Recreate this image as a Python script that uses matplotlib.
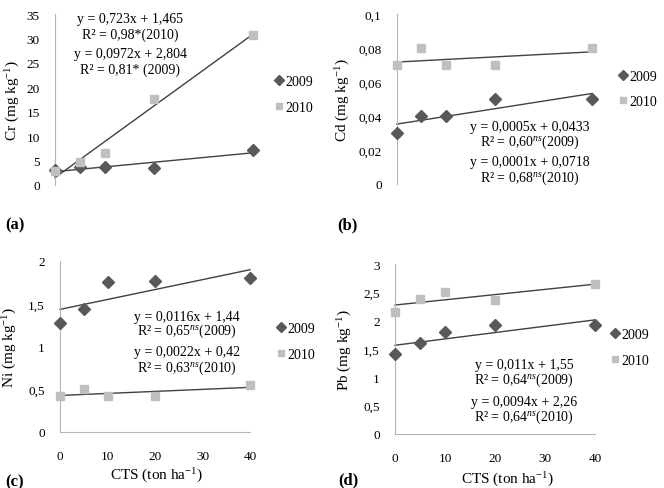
import numpy as np
import matplotlib
matplotlib.use("Agg")
import matplotlib.pyplot as plt
from matplotlib.lines import Line2D

plt.rcParams['font.family'] = ['Liberation Serif', 'DejaVu Serif']
plt.rcParams['mathtext.fontset'] = 'custom'
plt.rcParams['mathtext.rm'] = 'Liberation Serif'
plt.rcParams['mathtext.it'] = 'Liberation Serif:italic'

cts = [0, 5, 10, 20, 40]

cr_2009 = [3.1, 3.6, 3.6, 3.4, 7.2]
cr_2010 = [2.9, 4.8, 6.5, 17.6, 30.8]
cd_2009 = [0.03, 0.04, 0.04, 0.05, 0.05]
cd_2010 = [0.07, 0.08, 0.07, 0.07, 0.08]
ni_2009 = [1.27, 1.44, 1.76, 1.77, 1.80]
ni_2010 = [0.425, 0.50, 0.42, 0.42, 0.55]
pb_2009 = [1.42, 1.61, 1.80, 1.92, 1.92]
pb_2010 = [2.16, 2.39, 2.51, 2.36, 2.65]

cr_ticks = [0, 5, 10, 15, 20, 25, 30, 35]
cr_ticklabels = ['0', '5', '10', '15', '20', '25', '30', '35']
cd_ticks = [0, 0.02, 0.04, 0.06, 0.08, 0.1]
cd_ticklabels = ['0', '0,02', '0,04', '0,06', '0,08', '0,1']
ni_ticks = [0, 0.5, 1, 1.5, 2]
ni_ticklabels = ['0', '0,5', '1', '1,5', '2']
pb_ticks = [0, 0.5, 1, 1.5, 2, 2.5, 3]
pb_ticklabels = ['0', '0,5', '1', '1,5', '2', '2,5', '3']
x_ticks = [0, 10, 20, 30, 40]
x_ticklabels = ['0', '10', '20', '30', '40']

cr_eq = ['y = 0,723x + 1,465', 'R² = 0,98*(2010)', 'y = 0,0972x + 2,804', 'R² = 0,81* (2009)']
cd_eq = ['y = 0,0005x + 0,0433', 'R² = 0,60$^{ns}$(2009)', 'y = 0,0001x + 0,0718', 'R² = 0,68$^{ns}$(2010)']
ni_eq = ['y = 0,0116x + 1,44', 'R² = 0,65$^{ns}$(2009)', 'y = 0,0022x + 0,42', 'R² = 0,63$^{ns}$(2010)']
pb_eq = ['y = 0,011x + 1,55', 'R² = 0,64$^{ns}$(2009)', 'y = 0,0094x + 2,26', 'R² = 0,64$^{ns}$(2010)']

C09 = '#595959'
C10 = '#bfbfbf'
LINEC = '#404040'
SPINEC = '#b5b5b5'

W, H = 664, 489
fig = plt.figure(figsize=(W / 100, H / 100), dpi=100)


def px_axes(l, r, t, b):
    return fig.add_axes([l / W, 1 - b / H, (r - l) / W, (b - t) / H])


panels = [
    dict(box=(55, 253, 15, 186), y09=cr_2009, y10=cr_2010, ticks=cr_ticks, tl=cr_ticklabels,
         ylim=(0, 35), ylabel='Cr (mg kg$^{-1}$)', ylc=-0.165, bottom=False,
         eq=cr_eq, eqx=0.38, eqy=[0.975, 0.88, 0.77, 0.675], leg=(1.11, 0.53), lab='(a)', labpos=(5, 225)),
    dict(box=(397, 592, 15, 185), y09=cd_2009, y10=cd_2010, ticks=cd_ticks, tl=cd_ticklabels,
         ylim=(0, 0.1), ylabel='Cd (mg kg$^{-1}$)', ylc=-0.23, bottom=False,
         eq=cd_eq, eqx=0.68, eqy=[0.34, 0.25, 0.13, 0.04], leg=(1.14, 0.56), lab='(b)', labpos=(337, 225)),
    dict(box=(60, 250, 262, 433), y09=ni_2009, y10=ni_2010, ticks=ni_ticks, tl=ni_ticklabels,
         ylim=(0, 2), ylabel='Ni (mg kg$^{-1}$)', ylc=-0.215, bottom=True,
         eq=ni_eq, eqx=0.67, eqy=[0.678, 0.596, 0.468, 0.378], leg=(1.14, 0.53), lab='(c)', labpos=(5, 482),
         xlx=0.51, xly=-0.20),
    dict(box=(395, 595, 265, 435), y09=pb_2009, y10=pb_2010, ticks=pb_ticks, tl=pb_ticklabels,
         ylim=(0, 3), ylabel='Pb (mg kg$^{-1}$)', ylc=-0.205, bottom=True,
         eq=pb_eq, eqx=0.645, eqy=[0.41, 0.32, 0.19, 0.106], leg=(1.08, 0.51), lab='(d)', labpos=(338, 480),
         xlx=0.56, xly=-0.21),
]

for p in panels:
    ax = px_axes(*p['box'])
    x = np.array(cts, dtype=float)
    for ys in (p['y09'], p['y10']):
        k, b = np.polyfit(x, np.array(ys), 1)
        xx = np.array([x.min(), x.max()])
        ax.plot(xx, k * xx + b, color=LINEC, lw=1.0, zorder=2, clip_on=False)
    ax.plot(cts, p['y09'], linestyle='none', marker='D', ms=6, color=C09, zorder=3, clip_on=False)
    ax.plot(cts, p['y10'], linestyle='none', marker='s', ms=5.5, color=C10, zorder=3, clip_on=False)
    ax.set_xlim(0, 40)
    ax.set_ylim(*p['ylim'])
    ax.set_yticks(p['ticks'])
    ax.set_yticklabels(p['tl'])
    for s in ('top', 'right'):
        ax.spines[s].set_visible(False)
    ax.spines['left'].set_color(SPINEC)
    ax.spines['bottom'].set_color(SPINEC)
    ax.tick_params(axis='y', length=0, pad=11, labelsize=9.5)
    if p['bottom']:
        ax.set_xticks(x_ticks)
        ax.set_xticklabels(x_ticklabels)
        ax.tick_params(axis='x', length=0, pad=13, labelsize=9.5)
        ax.set_xlabel('CTS (ton ha$^{-1}$)', fontsize=11)
        ax.xaxis.set_label_coords(p['xlx'], p['xly'])
    else:
        ax.spines['bottom'].set_visible(False)
        ax.set_xticks([])
    ax.set_ylabel(p['ylabel'], fontsize=11)
    ax.yaxis.set_label_coords(p['ylc'], 0.5)
    for t, yy in zip(p['eq'], p['eqy']):
        ax.text(p['eqx'], yy, t, transform=ax.transAxes, ha='center', va='center', fontsize=10)
    handles = [Line2D([], [], linestyle='none', marker='D', ms=5, color=C09),
               Line2D([], [], linestyle='none', marker='s', ms=5, color=C10)]
    ax.legend(handles, ['2009', '2010'], loc='center left', bbox_to_anchor=p['leg'],
              frameon=False, fontsize=10, handlelength=0.6, handletextpad=0.15,
              labelspacing=0.9, borderpad=0, borderaxespad=0)
    fig.text(p['labpos'][0] / W, 1 - p['labpos'][1] / H, p['lab'], fontsize=12,
             fontweight='bold', ha='left', va='center')

fig.savefig('out.png', dpi=100)
